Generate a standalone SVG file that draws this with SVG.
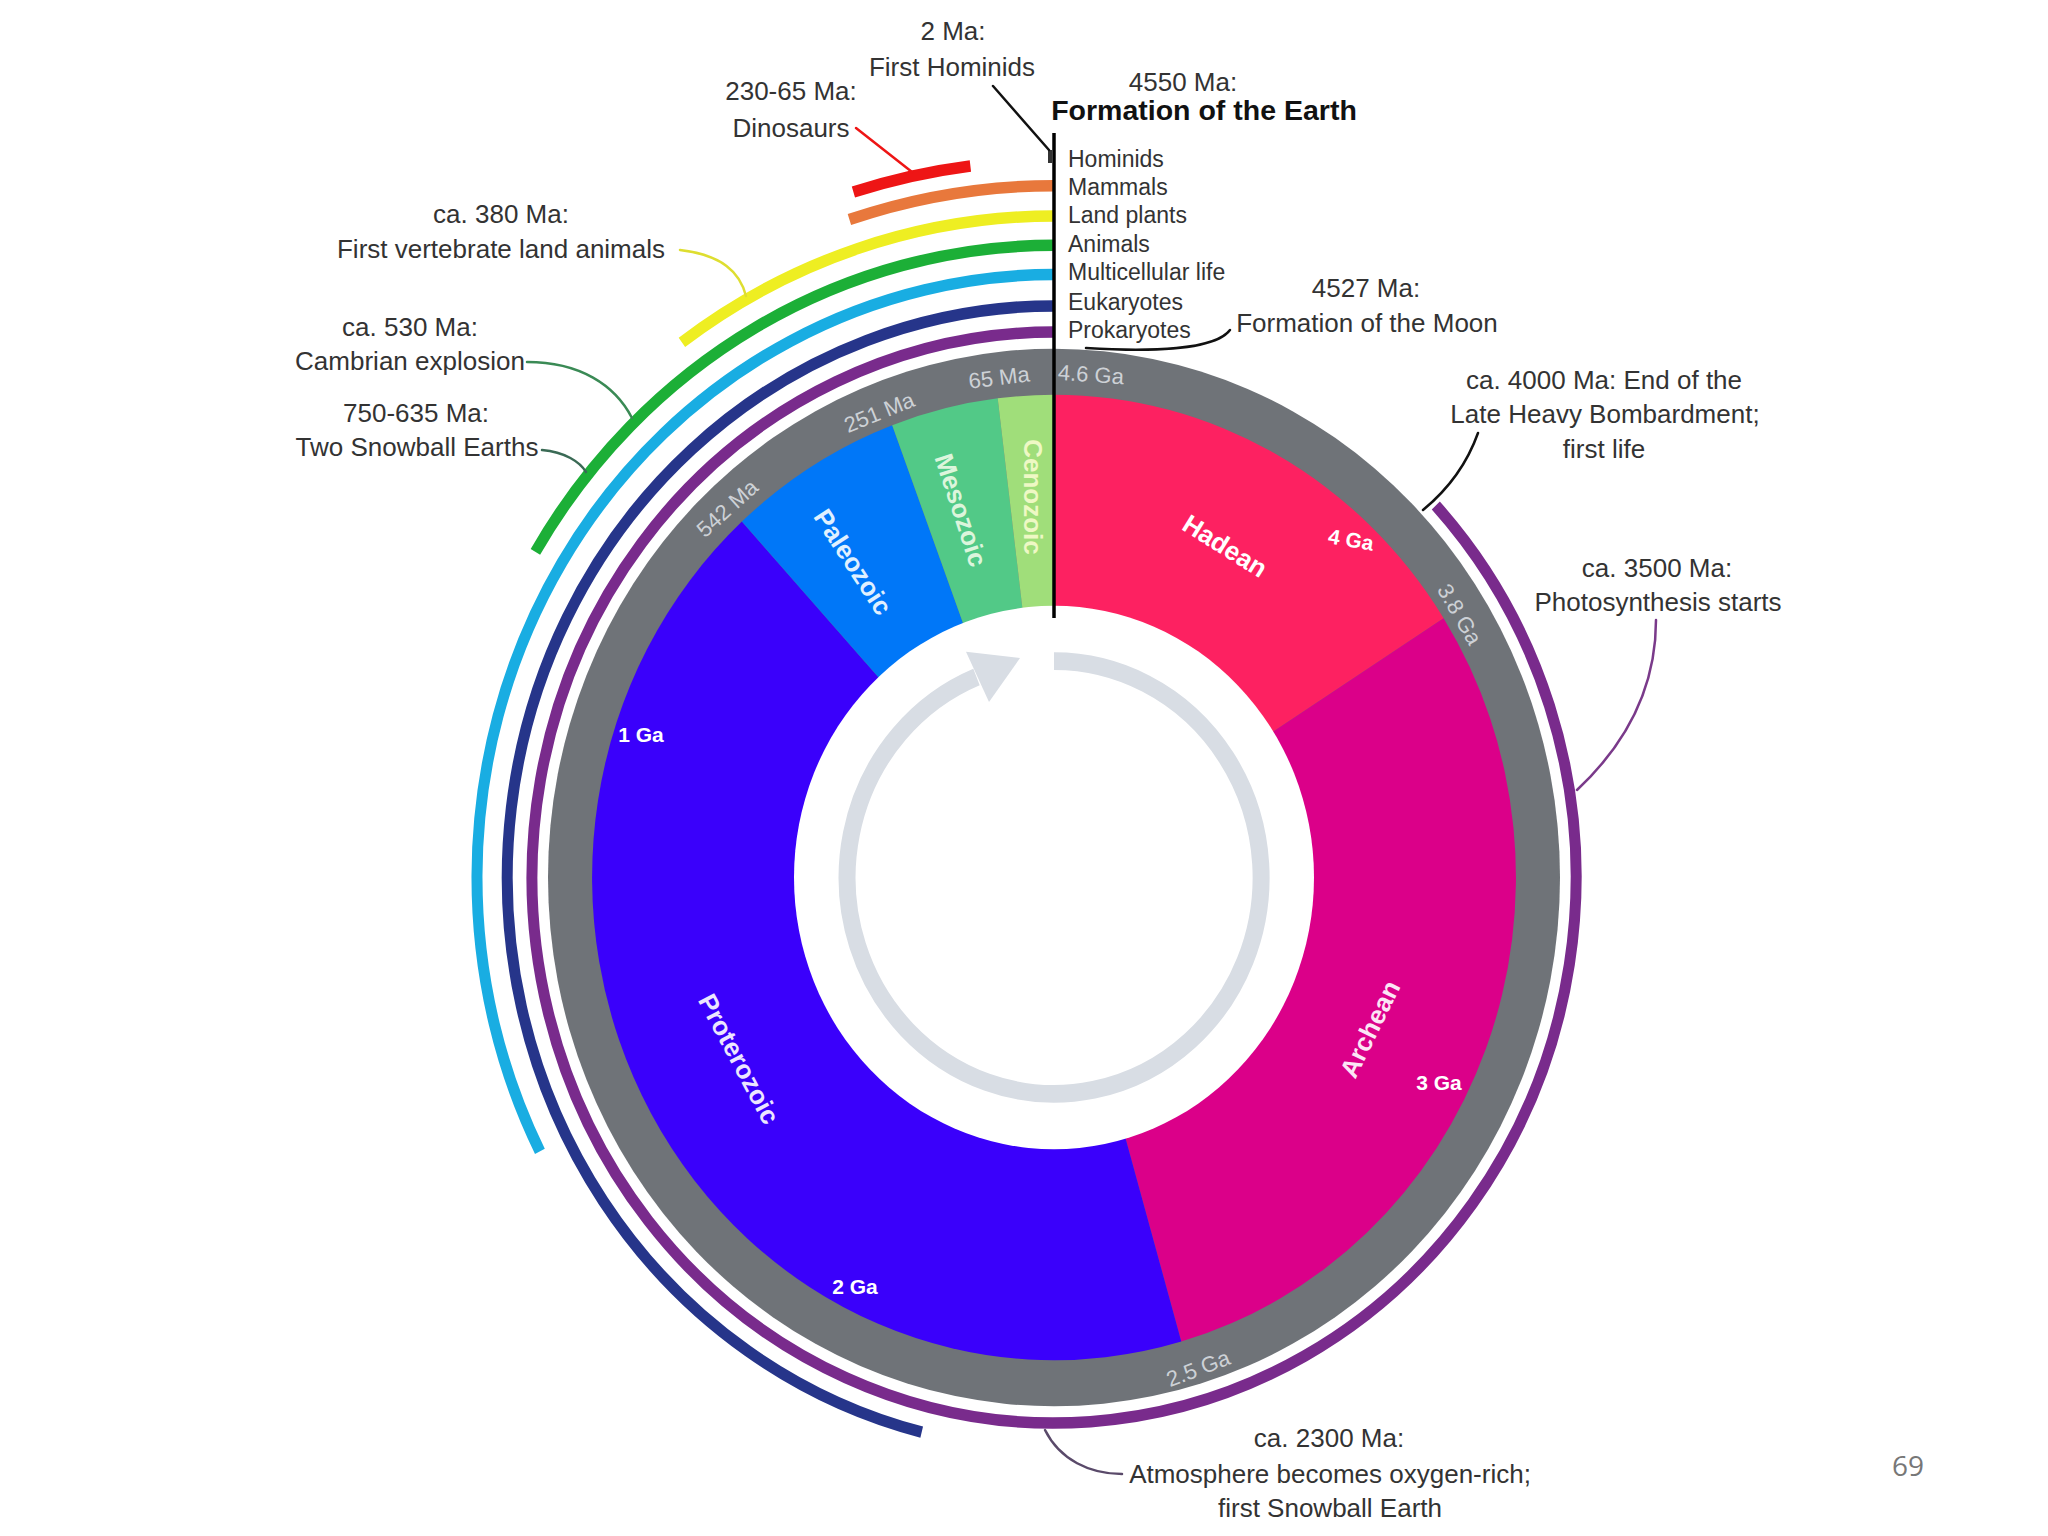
<svg xmlns="http://www.w3.org/2000/svg" width="2048" height="1536" viewBox="0 0 2048 1536">
<style>
.lbl{font-family:"Liberation Sans",Arial,sans-serif;font-size:26px;fill:#333;text-anchor:middle}
.leg{font-family:"Liberation Sans",Arial,sans-serif;font-size:23px;fill:#333}
.seg{font-family:"Liberation Sans",Arial,sans-serif;font-size:26px;font-weight:bold;text-anchor:middle}
.ring{font-family:"Liberation Sans",Arial,sans-serif;font-size:22px;fill:#cdd1d6;text-anchor:middle}
.tick{font-family:"Liberation Sans",Arial,sans-serif;font-size:21px;font-weight:bold;fill:#fff;text-anchor:middle}
.arc{fill:none;stroke-width:11;stroke-linecap:butt}
.con{fill:none;stroke-width:2.5;stroke-linecap:round}
</style>
<rect width="2048" height="1536" fill="#fff"/>

<g id="clock" transform="translate(1054,877.5) scale(1,1.045)">
  <circle id="time-ring" r="506" fill="#6f7378"/>
  <path id="hadean" d="M0,0 L0,-462 A462,462 0 0 1 389.6,-248.2 Z" fill="#fd2161"/>
  <path id="archean" d="M0,0 L389.6,-248.2 A462,462 0 0 1 127.3,444.1 Z" fill="#db0089"/>
  <path id="proterozoic" d="M0,0 L127.3,444.1 A462,462 0 0 1 -312.1,-340.6 Z" fill="#3a00fb"/>
  <path id="paleozoic" d="M0,0 L-312.1,-340.6 A462,462 0 0 1 -161.8,-432.8 Z" fill="#0077f8"/>
  <path id="mesozoic" d="M0,0 L-161.8,-432.8 A462,462 0 0 1 -56.3,-458.5 Z" fill="#52c987"/>
  <path id="cenozoic" d="M0,0 L-56.3,-458.5 A462,462 0 0 1 0,-462 Z" fill="#a0de7a"/>
  <circle id="hole" r="260" fill="#fff"/>
  <g id="cycle-arrow" fill="#d8dde4">
    <path d="M0,-207 A207,207 0 1 1 -77.5,-191.9" fill="none" stroke="#d8dde4" stroke-width="17"/>
    <polygon points="-65,-168 -88,-216 -34,-210"/>
  </g>
  <g id="life-arcs">
    <path id="prokaryotes-arc" class="arc" stroke="#792b8c" d="M381.8,-356 A522,522 0 1 1 0,-522"/>
    <path id="eukaryotes-arc" class="arc" stroke="#26358a" d="M-132.3,530.7 A547,547 0 0 1 0,-547"/>
    <path id="multicellular-arc" class="arc" stroke="#19ade2" d="M-514.1,262 A577,577 0 0 1 0,-577"/>
    <path id="animals-arc" class="arc" stroke="#1caf37" d="M-518.6,-311.6 A605,605 0 0 1 0,-605"/>
    <path id="landplants-arc" class="arc" stroke="#eeee22" d="M-372.1,-512.1 A633,633 0 0 1 0,-633"/>
    <path id="mammals-arc" class="arc" stroke="#e8783c" d="M-204.6,-629.6 A662,662 0 0 1 0,-662"/>
    <path id="dinosaurs-arc" class="arc" stroke="#ee1515" stroke-width="12" d="M-200.6,-656 A686,686 0 0 1 -83.6,-680.9"/>
  </g>
</g>

<rect id="hominids-mark" x="1048" y="150" width="4" height="13" fill="#333"/>
<line id="zero-line" x1="1054" y1="133" x2="1054" y2="618" stroke="#000" stroke-width="3.5"/>

<g id="connectors">
  <line class="con" x1="993" y1="86" x2="1049" y2="150" stroke="#111"/>
  <line class="con" x1="856" y1="128" x2="912" y2="172" stroke="#ee1515" stroke-width="3"/>
  <path class="con" d="M680,250 C722,255 740,272 746,296" stroke="#dede30" stroke-width="2"/>
  <path class="con" d="M527,362 C580,362 615,385 632,418" stroke="#3a8a55" stroke-width="2"/>
  <path class="con" d="M542,450 C565,452 580,462 586,472" stroke="#3a6a55" stroke-width="2"/>
  <path class="con" d="M1086,348 C1150,352 1215,350 1230,330" stroke="#111"/>
  <path class="con" d="M1478,433 Q1462,478 1423,510" stroke="#111" stroke-width="3"/>
  <path class="con" d="M1656,620 C1656,690 1625,745 1577,790" stroke="#7a3a8a"/>
  <path class="con" d="M1045,1430 C1060,1460 1090,1474 1122,1474" stroke="#5a4a6a"/>
</g>

<g id="segment-labels">
  <text class="seg" fill="#fff" transform="translate(1225,546) rotate(32)" dy="9">Hadean</text>
  <text class="seg" fill="#fbe6f6" transform="translate(1370,1029) rotate(-64)" dy="9">Archean</text>
  <text class="seg" fill="#ece6ff" transform="translate(739,1059) rotate(62)" dy="9">Proterozoic</text>
  <text class="seg" fill="#e0f0ff" transform="translate(853,562) rotate(57)" dy="9">Paleozoic</text>
  <text class="seg" fill="#dcf5dc" transform="translate(961,510) rotate(72)" dy="9">Mesozoic</text>
  <text class="seg" fill="#eef8c4" transform="translate(1033,497) rotate(90)" dy="9">Cenozoic</text>
</g>

<g id="ring-labels">
  <text class="ring" transform="translate(1091,374) rotate(4)" dy="8">4.6 Ga</text>
  <text class="ring" transform="translate(999,377) rotate(-7)" dy="8">65 Ma</text>
  <text class="ring" transform="translate(879,412) rotate(-22)" dy="8">251 Ma</text>
  <text class="ring" transform="translate(727,508) rotate(-42)" dy="8">542 Ma</text>
  <text class="ring" transform="translate(1460,614) rotate(60)" dy="8">3.8 Ga</text>
  <text class="ring" transform="translate(1198,1368) rotate(-21)" dy="8">2.5 Ga</text>
</g>

<g id="tick-labels">
  <text class="tick" transform="translate(1351,540) rotate(10)" dy="7">4 Ga</text>
  <text class="tick" x="641" y="742">1 Ga</text>
  <text class="tick" x="855" y="1294">2 Ga</text>
  <text class="tick" x="1439" y="1090">3 Ga</text>
</g>

<g id="legend">
  <text class="leg" x="1068" y="167">Hominids</text>
  <text class="leg" x="1068" y="195">Mammals</text>
  <text class="leg" x="1068" y="223">Land plants</text>
  <text class="leg" x="1068" y="252">Animals</text>
  <text class="leg" x="1068" y="280">Multicellular life</text>
  <text class="leg" x="1068" y="310">Eukaryotes</text>
  <text class="leg" x="1068" y="338">Prokaryotes</text>
</g>

<g id="event-labels">
  <g id="hominids-label"><text class="lbl" x="953" y="40">2 Ma:</text><text class="lbl" x="952" y="76">First Hominids</text></g>
  <g id="dinosaurs-label"><text class="lbl" x="791" y="100">230-65 Ma:</text><text class="lbl" x="791" y="137">Dinosaurs</text></g>
  <g id="earth-label"><text class="lbl" x="1183" y="91">4550 Ma:</text><text class="lbl" x="1204" y="120" style="font-weight:bold;font-size:28.5px;fill:#111">Formation of the Earth</text></g>
  <g id="moon-label"><text class="lbl" x="1366" y="297">4527 Ma:</text><text class="lbl" x="1367" y="332">Formation of the Moon</text></g>
  <g id="lhb-label"><text class="lbl" x="1604" y="389">ca. 4000 Ma: End of the</text><text class="lbl" x="1605" y="423">Late Heavy Bombardment;</text><text class="lbl" x="1604" y="458">first life</text></g>
  <g id="photo-label"><text class="lbl" x="1657" y="577">ca. 3500 Ma:</text><text class="lbl" x="1658" y="611">Photosynthesis starts</text></g>
  <g id="oxygen-label"><text class="lbl" x="1329" y="1447">ca. 2300 Ma:</text><text class="lbl" x="1330" y="1483">Atmosphere becomes oxygen-rich;</text><text class="lbl" x="1330" y="1517">first Snowball Earth</text></g>
  <g id="vertebrate-label"><text class="lbl" x="501" y="223">ca. 380 Ma:</text><text class="lbl" x="501" y="258">First vertebrate land animals</text></g>
  <g id="cambrian-label"><text class="lbl" x="410" y="336">ca. 530 Ma:</text><text class="lbl" x="410" y="370">Cambrian explosion</text></g>
  <g id="snowball-label"><text class="lbl" x="416" y="422">750-635 Ma:</text><text class="lbl" x="417" y="456">Two Snowball Earths</text></g>
</g>

<text id="page-number" x="1908" y="1476" style="font-family:'Open Sans','Liberation Sans',sans-serif;font-size:28px;fill:#777;text-anchor:middle">69</text>
</svg>
